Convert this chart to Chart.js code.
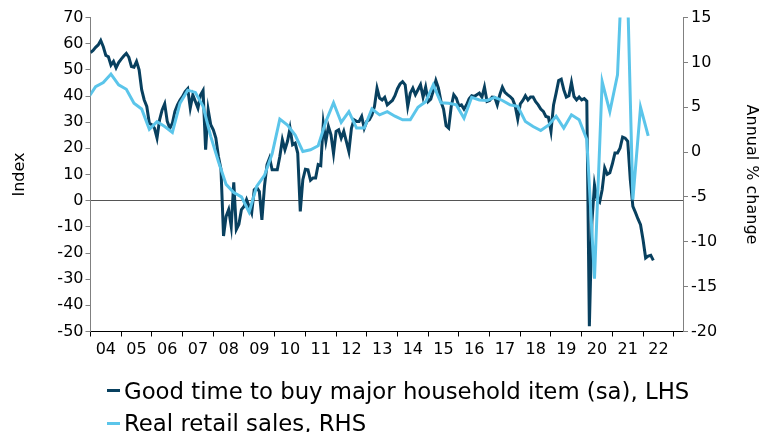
<!DOCTYPE html>
<html>
<head>
<meta charset="utf-8">
<script src="https://cdn.jsdelivr.net/npm/chart.js@4.4.1/dist/chart.umd.min.js"></script>
<style>
html,body{margin:0;padding:0;background:#fff;}
#wrap{position:relative;width:763px;height:432px;overflow:hidden;font-family:"DejaVu Sans",Verdana,sans-serif;}
#c{position:absolute;left:0;top:0;}
#legend{position:absolute;left:107px;top:374.5px;font-size:22.8px;line-height:32.5px;color:#000;}
.item{display:flex;align-items:center;white-space:nowrap;}
.swatch{display:inline-block;width:13px;height:3px;margin-right:4px;}
</style>
</head>
<body>
<div id="wrap">
  <canvas id="c" width="763" height="432"></canvas>
  <div id="legend"></div>
</div>
<script>
const FONT = '"DejaVu Sans", Verdana, sans-serif';

// monthly, from Jan 2004
const goodTimeStart = 2004;
const goodTime = [
  56.6, 57.4, 58.6, 59.5, 61.2, 58.8, 55.5, 55, 51.8, 53.2, 50.8, 52.8,
  54.1, 55.3, 56.3, 54.8, 51.3, 51, 53.2, 50, 42.4, 38.5, 36, 29.6,
  29, 27.7, 23.9, 30.9, 34.7, 37, 30.3, 27.7, 29.6, 34.1, 36.6, 38.5,
  39.8, 41.7, 42.8, 35.4, 40.4, 37.9, 35.4, 40.4, 42.1, 19.5, 34.7, 29,
  27.1, 23.9, 16.9, 12, -13.5, -6, -3.4, -9.8, 7, -11, -9, -3.4,
  -2.2, 0.4, -2.2, -4.7, 4.2, 5, 3.5, -7.3, 5.5, 13.8, 16.3, 11.8,
  11.8, 11.8, 16.9, 23.3, 19.5, 22.7, 27.7, 21.4, 22, 18.2, -4.1, 8,
  12, 11.8, 7.8, 8.7, 8.7, 13.8, 13.4, 29.6, 22.7, 28.4, 25.2, 18,
  26.5, 27.1, 23.9, 26.5, 22.7, 18.8, 27.7, 30.9, 30.3, 30.3, 32.2, 27.7,
  30.3, 30.9, 32.8, 36, 43, 39.2, 38.5, 39.5, 36.6, 37.5, 38.3, 40.1,
  42.8, 44.6, 45.5, 44.3, 36, 41.1, 43, 40.5, 42.4, 44.3, 39.6, 43.4,
  37.9, 38.8, 42.1, 45.9, 43, 37.9, 35, 28.6, 27.7, 36, 40.5, 39.2,
  36.2, 36.6, 35, 36.6, 38.9, 40.1, 39.8, 40.5, 41.1, 39.6, 43.4, 37.9,
  38.3, 39.6, 39.5, 36.6, 40.5, 43.4, 41.4, 40.5, 39.8, 38.8, 36.2, 31.2,
  37, 38.3, 40.1, 38.5, 39.6, 39.6, 37.8, 36.6, 35, 34.1, 32.2, 31.9,
  26.5, 36.6, 41.1, 45.9, 46.4, 42.4, 39.6, 40.1, 45.2, 39.8, 38.5, 39.6,
  38.5, 39, 38, -48, -8, 6, 0.4, -0.6, 4.2, 12.5, 10.1, 10.7,
  14.1, 18.2, 18.2, 20.1, 24.3, 23.9, 22.7, 8, -2.2, -4.5, -7, -9.2,
  -15, -21.9, -21.2, -20.9, -22.8
];

// quarterly, from 2003 Q4
const retailStart = [2003, 4];
const retail = [
  6.0,
  7.3, 7.75, 8.7, 7.5,
  7.0, 5.45, 4.8, 2.55,
  3.4, 2.85, 2.2, 5.45,
  6.9, 6.65, 5.1, 1.75,
  -1.05, -3.6, -4.5, -5.0,
  -6.7, -3.8, -2.6, -0.2,
  3.67, 3.0, 1.9, 0.07,
  0.26, 0.7, 3.4, 5.5,
  3.3, 4.5, 2.67, 2.67,
  4.8, 4.15, 4.5, 4.0,
  3.6, 3.6, 5.0, 5.6,
  7.5, 5.5, 5.45, 5.26,
  3.78, 6.1, 5.8, 5.75,
  6.1, 5.75, 5.26, 5.1,
  3.4, 2.85, 2.4, 3.0,
  4.0, 2.67, 4.15, 3.6,
  1.4, -14.1, 7.86, 4.5,
  8.6, 28.4, -5.3, 5.0,
  1.8
];

const yearTicks = [2004, 2023];
const lhsRange = [-50, 70];
const rhsRange = [-20, 15];

const goodTimePts = goodTime.map((v, i) => ({x: goodTimeStart + i / 12, y: v}));
const retailPts = retail.map((v, i) => {
  const q = retailStart[1] - 1 + i;
  const yr = retailStart[0] + Math.floor(q / 4);
  const qi = q % 4;
  return {x: yr + (3 * qi + 2) / 12, y: v};
});

const chart = new Chart(document.getElementById('c'), {
  type: 'line',
  data: {
    datasets: [
      {label: 'Good time to buy major household item (sa), LHS', data: goodTimePts, yAxisID: 'y',
       borderColor: '#08405f', backgroundColor: '#08405f', borderWidth: 3, pointRadius: 0, tension: 0, order: 1},
      {label: 'Real retail sales, RHS', data: retailPts, yAxisID: 'y2',
       borderColor: '#5bc5ea', backgroundColor: '#5bc5ea', borderWidth: 3, pointRadius: 0, tension: 0, order: 0},
    ],
  },
  options: {
    responsive: false, animation: false, devicePixelRatio: 1,
    layout: {padding: {top: 17.5, left: 0, right: 0, bottom: 0}},
    plugins: {legend: {display: false}, tooltip: {enabled: false}},
    scales: {
      x: {
        type: 'linear', position: 'bottom', min: yearTicks[0], max: yearTicks[1] + 0.3,
        afterFit: s => { s.height = 100.5; },
        border: {display: true, color: '#000', width: 1},
        grid: {drawOnChartArea: false, drawTicks: true, tickLength: 5, color: '#000'},
        ticks: {stepSize: 1, includeBounds: false, autoSkip: false, maxRotation: 0, labelOffset: 15.35,
                padding: 4, color: '#000', font: {family: FONT, size: 16},
                callback: v => v < yearTicks[1] ? String(v).slice(2) : ''},
      },
      y: {
        type: 'linear', position: 'left', min: lhsRange[0], max: lhsRange[1],
        afterFit: s => { s.width = 90.5; },
        border: {display: true, color: '#808080', width: 1},
        grid: {drawOnChartArea: true, drawTicks: true, tickLength: 5, tickColor: '#808080',
               color: c => (c.tick && c.tick.value === 0) ? '#555' : 'rgba(0,0,0,0)'},
        ticks: {stepSize: 10, padding: 2, color: '#000', font: {family: FONT, size: 16}},
        title: {display: true, text: 'Index', color: '#000', font: {family: FONT, size: 16}, padding: {top: 10, bottom: 0}},
      },
      y2: {
        type: 'linear', position: 'right', min: rhsRange[0], max: rhsRange[1],
        afterFit: s => { s.width = 80; },
        border: {display: true, color: '#808080', width: 1},
        grid: {drawOnChartArea: false, drawTicks: true, tickLength: 5, color: '#808080'},
        ticks: {stepSize: 5, padding: 3, color: '#000', font: {family: FONT, size: 16}},
        title: {display: true, text: 'Annual % change', color: '#000', font: {family: FONT, size: 16}, padding: {top: 2, bottom: 0}},
      },
    },
  },
});

const legend = document.getElementById('legend');
legend.innerHTML = chart.data.datasets.map(d =>
  `<div class="item"><span class="swatch" style="background:${d.borderColor}"></span>${d.label}</div>`
).join('');
</script>
</body>
</html>
